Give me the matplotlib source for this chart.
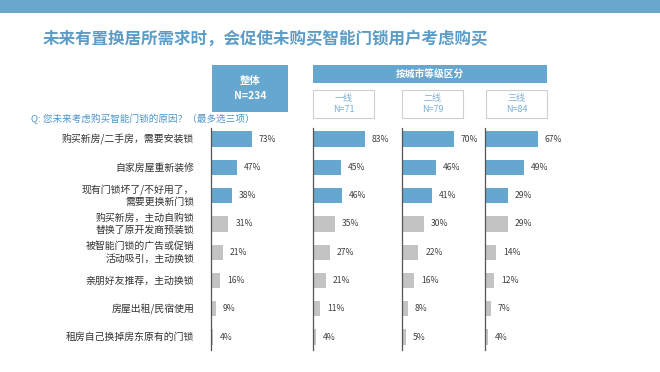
import matplotlib
matplotlib.use("Agg")
import matplotlib.pyplot as plt
from matplotlib.patches import Rectangle

plt.rcParams['font.family'] = ['Noto Sans CJK SC', 'DejaVu Sans']

# %% data
categories = [
    '购买新房/二手房，需要安装锁',
    '自家房屋重新装修',
    '现有门锁坏了/不好用了，\n需要更换新门锁',
    '购买新房，主动自购锁\n替换了原开发商预装锁',
    '被智能门锁的广告或促销\n活动吸引，主动换锁',
    '亲朋好友推荐，主动换锁',
    '房屋出租/民宿使用',
    '租房自己换掉房东原有的门锁',
]
overall = [73, 47, 38, 31, 21, 16, 9, 4]
tier1 = [83, 45, 46, 35, 27, 21, 11, 4]
tier2 = [70, 46, 41, 30, 22, 16, 8, 5]
tier3 = [67, 49, 29, 29, 14, 12, 7, 4]
panel_names = ['整体', '一线', '二线', '三线']
panel_n = [234, 71, 79, 84]
group_title = '按城市等级区分'
title = '未来有置换居所需求时，会促使未购买智能门锁用户考虑购买'
question = 'Q: 您未来考虑购买智能门锁的原因？（最多选三项）'
n_blue = 3

BLUE = '#66a7d0'
GRAY = '#c3c3c3'
TITLE_C = '#5b9dc8'
W, H = 660, 372


def fx(x):
    return x / W


def fy(y):
    return 1 - y / H


fig = plt.figure(figsize=(6.6, 3.72), dpi=100)
fig.patch.set_facecolor('white')

# top band
fig.add_artist(Rectangle((0, fy(13)), 1, 13 / H, transform=fig.transFigure,
                         facecolor='#6aa7cd', edgecolor='none'))
fig.text(fx(43), fy(39), title, fontsize=11.9, fontweight='bold',
         color=TITLE_C, va='center', ha='left')
fig.text(fx(31), fy(119), question, fontsize=6.9, color='#4f95c9',
         va='center', ha='left')


def box(x0, y0, x1, y1, filled):
    if filled:
        fig.add_artist(Rectangle((fx(x0), fy(y1)), (x1 - x0) / W, (y1 - y0) / H,
                                 transform=fig.transFigure, facecolor=BLUE,
                                 edgecolor='none'))
    else:
        fig.add_artist(Rectangle((fx(x0), fy(y1)), (x1 - x0) / W, (y1 - y0) / H,
                                 transform=fig.transFigure, facecolor='white',
                                 edgecolor='#cfcfcf', linewidth=0.8))


# header boxes
box(212, 65, 288, 112, True)
fig.text(fx(250), fy(81), panel_names[0], fontsize=7.5, fontweight='bold',
         color='white', ha='center', va='center')
fig.text(fx(250), fy(96), f'N={panel_n[0]}', fontsize=7.5, fontweight='bold',
         color='white', ha='center', va='center')
box(313, 65, 547, 83, True)
fig.text(fx(430), fy(74), group_title, fontsize=7, fontweight='bold',
         color='white', ha='center', va='center')
sub_boxes = [(313, 374), (402, 463), (486, 547)]
for (x0, x1), name, n in zip(sub_boxes, panel_names[1:], panel_n[1:]):
    box(x0, 90, x1, 118, False)
    fig.text(fx((x0 + x1) / 2), fy(98.5), name, fontsize=6.5, color='#7aafd4',
             ha='center', va='center')
    fig.text(fx((x0 + x1) / 2), fy(109.5), f'N={n}', fontsize=6.5, color='#7aafd4',
             ha='center', va='center')

# bar panels: left edge px, px per 100%
panels = [(211, 56, overall), (313, 62.6, tier1), (402, 74, tier2), (485, 79, tier3)]
ax_top, ax_bot = 128, 350
row0, step = 139, 28.3
y_top = -(row0 - ax_top) / step
y_bot = (len(categories) - 1) + (ax_bot - (row0 + step * (len(categories) - 1))) / step
pw = 80

for i, (x0, scale, vals) in enumerate(panels):
    ax = fig.add_axes([fx(x0), fy(ax_bot), pw / W, (ax_bot - ax_top) / H])
    ax.set_xlim(0, pw / scale * 100)
    ax.set_ylim(y_bot, y_top)
    colors = [BLUE if k < n_blue else GRAY for k in range(len(vals))]
    ys = list(range(len(vals)))
    ax.barh(ys, vals, height=0.54, color=colors, edgecolor='none')
    for y, v in zip(ys, vals):
        ax.annotate(f'{v}%', (v, y), xytext=(5, 0), textcoords='offset points',
                    fontsize=6.2, color='#404040', va='center', ha='left')
    for s in ['top', 'right', 'bottom']:
        ax.spines[s].set_visible(False)
    ax.spines['left'].set_color('#555555')
    ax.spines['left'].set_linewidth(0.9)
    ax.set_xticks([])
    ax.set_yticks([])
    ax.patch.set_alpha(0)
    if i == 0:
        for y, c in zip(ys, categories):
            ax.annotate(c, (0, y), xytext=(-12, 0), textcoords='offset points',
                        fontsize=7.1, color='#333333', va='center', ha='right',
                        multialignment='right', linespacing=1.3,
                        annotation_clip=False)

fig.savefig('out.png', dpi=100, facecolor='white')
